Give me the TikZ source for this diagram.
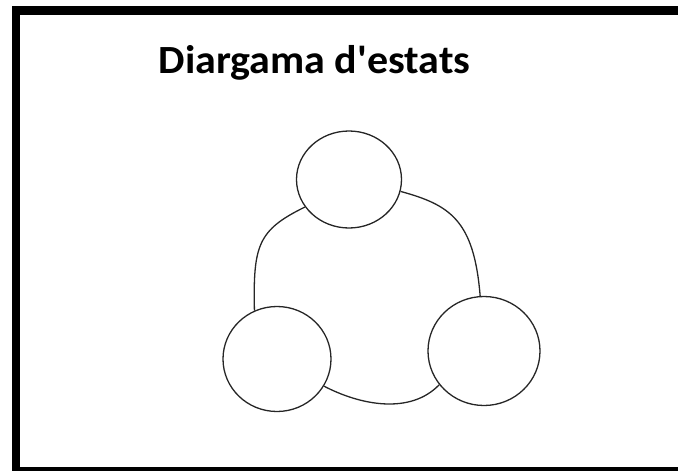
\documentclass[tikz,border=0pt]{standalone}
\usepackage{fontspec}
\newfontfamily\titlefont{Carlito}
\usetikzlibrary{shapes.geometric}
\tikzset{
  state/.style={draw=black!85, line width=1.3pt, ellipse, inner sep=0pt},
  link/.style={draw=black!85, line width=1.3pt},
  title/.style={font=\titlefont\bfseries\fontsize{40}{42}\selectfont, inner sep=0pt, anchor=base west, xscale=1.05}
}
\begin{document}
\begin{tikzpicture}[x=1pt,y=-1pt]
\useasboundingbox (0,0) rectangle (678,471);
% frame
\fill[black] (12,6) rectangle (678,15);
\fill[black] (12,6) rectangle (20,471);
\fill[black] (12,467) rectangle (678,471);
% title
\node[title] (t) at (158.5,73.5) {Diargama d'estats};
% states
\node[state, minimum width=105pt, minimum height=97pt] (top) at (349,179.5) {};
\node[state, minimum width=108pt, minimum height=105pt] (bl) at (277,359) {};
\node[state, minimum width=112pt, minimum height=109pt] (br) at (484,351) {};
% links
\draw[link] (top.212) .. controls (258,230) and (253,245) .. (bl.115);
\draw[link] (top.347) .. controls (450,205) and (474,220) .. (br.94);
\draw[link] (bl.330) .. controls (360,405) and (410,415) .. (br.217.7);
\end{tikzpicture}
\end{document}
